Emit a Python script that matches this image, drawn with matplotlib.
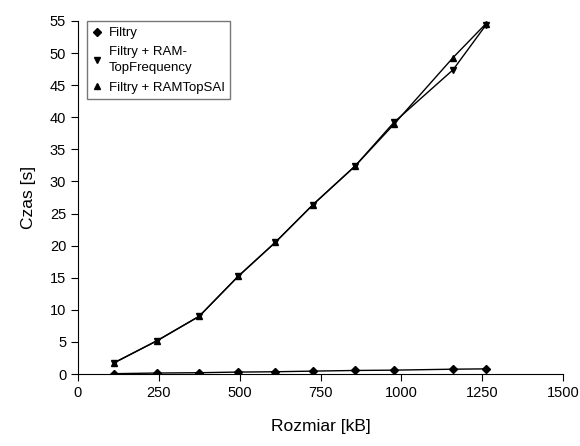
import matplotlib
matplotlib.use("Agg")
import matplotlib.pyplot as plt

plt.rcParams['font.family'] = ['Liberation Sans', 'DejaVu Sans']

rozmiar = [110, 245, 375, 495, 610, 727, 857, 977, 1160, 1262]
filtry = [0.05, 0.15, 0.2, 0.3, 0.35, 0.45, 0.55, 0.6, 0.75, 0.8]
filtry_freq = [1.7, 5.2, 9.0, 15.2, 20.5, 26.4, 32.4, 39.2, 47.4, 54.4]
filtry_sai = [1.7, 5.2, 9.0, 15.2, 20.5, 26.4, 32.4, 38.9, 49.3, 54.6]

fig = plt.figure(figsize=(5.8, 4.46), dpi=100)
ax = fig.add_axes([78 / 580, 1 - 374 / 446, (563 - 78) / 580, (374 - 21) / 446])

ax.plot(rozmiar, filtry, color='black', lw=1, marker='D', ms=4, label='Filtry')
ax.plot(rozmiar, filtry_freq, color='black', lw=1, marker='v', ms=5,
        label='Filtry + RAM-\nTopFrequency')
ax.plot(rozmiar, filtry_sai, color='black', lw=1, marker='^', ms=5,
        label='Filtry + RAMTopSAI')

ax.set_xlim(0, 1500)
ax.set_ylim(0, 55)
ax.set_xticks(range(0, 1501, 250))
ax.set_yticks(range(0, 56, 5))
ax.spines['top'].set_visible(False)
ax.spines['right'].set_visible(False)
ax.tick_params(direction='out', length=5, labelsize=10.5)
ax.set_xlabel('Rozmiar [kB]', fontsize=12.5, labelpad=14)
ax.set_ylabel('Czas [s]', fontsize=12.5, labelpad=10)

leg = ax.legend(loc='upper left', bbox_to_anchor=(0.018, 1.0), fontsize=9.5,
                fancybox=False, edgecolor='#555555', handlelength=0.7,
                handletextpad=0.5, borderpad=0.45, labelspacing=0.55,
                borderaxespad=0, markerscale=0.9)
leg.get_frame().set_linewidth(1)
for line in leg.get_lines():
    line.set_linestyle('')
for t in leg.get_texts():
    t.set_linespacing(1.4)

fig.savefig('out.png', dpi=100)
